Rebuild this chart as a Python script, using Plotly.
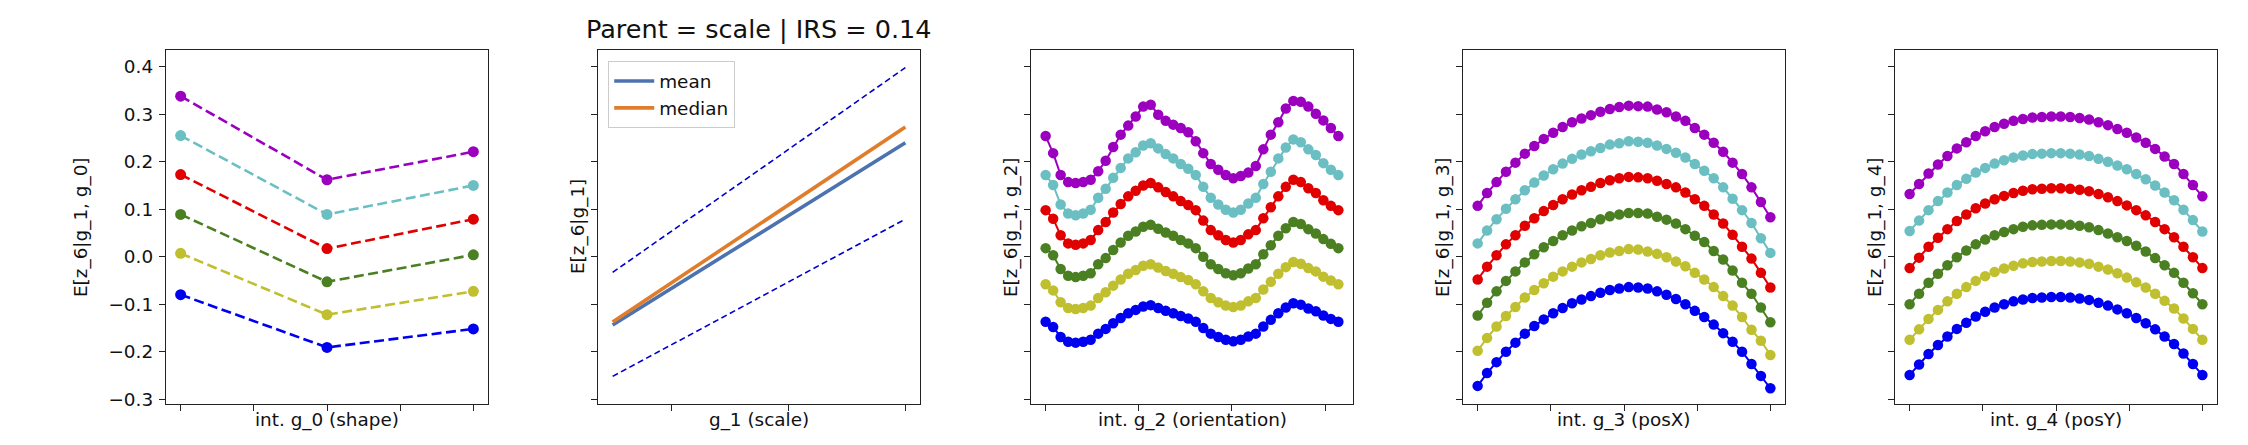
import numpy as np
import plotly.graph_objects as go

W, H = 2248, 445
FONT = "DejaVu Sans"

# colours for the six scale levels, bottom to top
level_colors = ["#0000f0", "#bfbf30", "#4a7f22", "#e00000", "#6bbfc3", "#9b00bf"]

# panel 1: shape
shape_x = [0, 1, 2]
shape_vals = [
    [-0.080, -0.191, -0.152],
    [0.007, -0.122, -0.073],
    [0.089, -0.053, 0.004],
    [0.173, 0.017, 0.079],
    [0.255, 0.089, 0.150],
    [0.338, 0.162, 0.221],
]

# panel 2: scale
scale_x = [0.5, 1.0]
scale_mean = [-0.144, 0.240]
scale_median = [-0.1375, 0.273]
scale_upper = [-0.033, 0.398]
scale_lower = [-0.252, 0.079]

# panel 3: orientation (40 levels)
orient_x = np.linspace(0, 2 * np.pi, 40)
orient_vals = [
    [-0.137, -0.148, -0.169, -0.179, -0.181, -0.179, -0.175, -0.162, -0.152, -0.140,
     -0.129, -0.119, -0.112, -0.105, -0.102, -0.108, -0.114, -0.119, -0.125, -0.130,
     -0.137, -0.150, -0.162, -0.169, -0.175, -0.178, -0.175, -0.168, -0.162, -0.147,
     -0.133, -0.119, -0.107, -0.098, -0.101, -0.109, -0.115, -0.124, -0.131, -0.137],
    [-0.058, -0.071, -0.096, -0.108, -0.110, -0.108, -0.103, -0.087, -0.075, -0.061,
     -0.048, -0.036, -0.028, -0.019, -0.016, -0.023, -0.030, -0.036, -0.043, -0.049,
     -0.058, -0.073, -0.087, -0.096, -0.103, -0.106, -0.103, -0.094, -0.087, -0.069,
     -0.053, -0.036, -0.022, -0.011, -0.015, -0.024, -0.031, -0.042, -0.050, -0.058],
    [0.018, 0.003, -0.026, -0.040, -0.043, -0.040, -0.035, -0.016, -0.003, 0.014,
     0.030, 0.044, 0.053, 0.063, 0.067, 0.059, 0.051, 0.044, 0.035, 0.028,
     0.018, 0.000, -0.016, -0.026, -0.035, -0.039, -0.035, -0.025, -0.016, 0.005,
     0.024, 0.044, 0.060, 0.073, 0.069, 0.058, 0.049, 0.037, 0.027, 0.018],
    [0.098, 0.080, 0.045, 0.028, 0.025, 0.028, 0.035, 0.056, 0.073, 0.093,
     0.111, 0.127, 0.139, 0.150, 0.155, 0.146, 0.136, 0.127, 0.117, 0.109,
     0.098, 0.076, 0.056, 0.045, 0.035, 0.030, 0.035, 0.047, 0.056, 0.081,
     0.104, 0.127, 0.147, 0.162, 0.157, 0.144, 0.134, 0.119, 0.107, 0.098],
    [0.172, 0.151, 0.110, 0.091, 0.087, 0.091, 0.099, 0.124, 0.143, 0.166,
     0.187, 0.207, 0.220, 0.234, 0.239, 0.228, 0.216, 0.207, 0.195, 0.185,
     0.172, 0.147, 0.124, 0.110, 0.099, 0.093, 0.099, 0.112, 0.124, 0.153,
     0.179, 0.207, 0.230, 0.247, 0.241, 0.226, 0.214, 0.197, 0.183, 0.172],
    [0.254, 0.218, 0.172, 0.157, 0.155, 0.157, 0.162, 0.180, 0.202, 0.231,
     0.257, 0.276, 0.295, 0.316, 0.320, 0.299, 0.286, 0.278, 0.271, 0.262,
     0.243, 0.218, 0.195, 0.183, 0.172, 0.165, 0.170, 0.177, 0.191, 0.226,
     0.257, 0.283, 0.312, 0.328, 0.326, 0.316, 0.301, 0.287, 0.271, 0.254],
]

# panel 4: posX (32 levels)
posx_x = np.linspace(0, 1, 32)
posx_vals = [
    [-0.272, -0.245, -0.222, -0.200, -0.181, -0.162, -0.146, -0.132, -0.119, -0.108,
     -0.098, -0.090, -0.083, -0.076, -0.070, -0.067, -0.064, -0.065, -0.067, -0.073,
     -0.080, -0.089, -0.100, -0.114, -0.127, -0.143, -0.161, -0.179, -0.200, -0.226,
     -0.251, -0.277],
    [-0.198, -0.171, -0.147, -0.125, -0.106, -0.086, -0.070, -0.056, -0.042, -0.031,
     -0.021, -0.012, -0.005, 0.003, 0.009, 0.012, 0.016, 0.015, 0.011, 0.006,
     -0.001, -0.010, -0.020, -0.034, -0.048, -0.064, -0.083, -0.103, -0.127, -0.154,
     -0.177, -0.207],
    [-0.124, -0.097, -0.073, -0.051, -0.031, -0.012, 0.005, 0.020, 0.033, 0.045,
     0.055, 0.064, 0.071, 0.079, 0.085, 0.089, 0.092, 0.092, 0.091, 0.084,
     0.078, 0.070, 0.058, 0.044, 0.031, 0.012, -0.006, -0.029, -0.055, -0.078,
     -0.107, -0.138],
    [-0.048, -0.021, 0.003, 0.026, 0.045, 0.065, 0.081, 0.096, 0.109, 0.121,
     0.131, 0.140, 0.147, 0.155, 0.161, 0.165, 0.168, 0.167, 0.165, 0.160,
     0.153, 0.146, 0.135, 0.121, 0.107, 0.089, 0.070, 0.046, 0.021, -0.004,
     -0.034, -0.065],
    [0.028, 0.055, 0.079, 0.101, 0.121, 0.140, 0.156, 0.171, 0.184, 0.196,
     0.206, 0.215, 0.222, 0.229, 0.236, 0.239, 0.243, 0.242, 0.240, 0.234,
     0.227, 0.219, 0.209, 0.195, 0.181, 0.165, 0.146, 0.122, 0.098, 0.071,
     0.039, 0.008],
    [0.107, 0.134, 0.157, 0.179, 0.198, 0.217, 0.233, 0.248, 0.261, 0.273,
     0.283, 0.291, 0.298, 0.305, 0.311, 0.315, 0.318, 0.317, 0.316, 0.310,
     0.304, 0.295, 0.286, 0.271, 0.257, 0.240, 0.221, 0.198, 0.174, 0.146,
     0.115, 0.083],
]

# panel 5: posY (32 levels)
posy_x = np.linspace(0, 1, 32)
posy_vals = [
    [-0.249, -0.227, -0.205, -0.186, -0.168, -0.152, -0.139, -0.126, -0.116, -0.107,
     -0.100, -0.094, -0.090, -0.087, -0.086, -0.085, -0.085, -0.086, -0.088, -0.091,
     -0.097, -0.103, -0.111, -0.119, -0.129, -0.140, -0.153, -0.168, -0.184, -0.204,
     -0.226, -0.249],
    [-0.175, -0.153, -0.131, -0.112, -0.094, -0.078, -0.064, -0.051, -0.041, -0.032,
     -0.025, -0.019, -0.014, -0.011, -0.010, -0.009, -0.009, -0.010, -0.012, -0.015,
     -0.021, -0.027, -0.035, -0.044, -0.054, -0.065, -0.078, -0.093, -0.109, -0.130,
     -0.152, -0.175],
    [-0.100, -0.078, -0.055, -0.036, -0.018, -0.001, 0.013, 0.026, 0.036, 0.045,
     0.052, 0.058, 0.063, 0.066, 0.067, 0.068, 0.068, 0.067, 0.065, 0.062,
     0.056, 0.049, 0.041, 0.033, 0.023, 0.011, -0.003, -0.018, -0.034, -0.055,
     -0.077, -0.100],
    [-0.024, -0.002, 0.021, 0.040, 0.058, 0.075, 0.089, 0.102, 0.112, 0.121,
     0.128, 0.134, 0.139, 0.142, 0.143, 0.144, 0.144, 0.143, 0.141, 0.138,
     0.132, 0.125, 0.117, 0.108, 0.098, 0.087, 0.073, 0.058, 0.041, 0.021,
     -0.001, -0.024],
    [0.054, 0.076, 0.098, 0.117, 0.135, 0.151, 0.164, 0.177, 0.187, 0.196,
     0.203, 0.209, 0.213, 0.216, 0.217, 0.218, 0.218, 0.217, 0.215, 0.212,
     0.206, 0.200, 0.192, 0.184, 0.174, 0.163, 0.150, 0.135, 0.119, 0.099,
     0.077, 0.053],
    [0.132, 0.153, 0.175, 0.194, 0.212, 0.228, 0.241, 0.254, 0.264, 0.273,
     0.280, 0.286, 0.290, 0.293, 0.294, 0.295, 0.295, 0.294, 0.292, 0.289,
     0.283, 0.277, 0.269, 0.261, 0.251, 0.240, 0.227, 0.211, 0.195, 0.174,
     0.151, 0.127],
]

y_ticks = [0.4, 0.3, 0.2, 0.1, 0.0, -0.1, -0.2, -0.3]
y_ticktext = ["0.4", "0.3", "0.2", "0.1", "0.0", "\u22120.1", "\u22120.2", "\u22120.3"]

x_titles = ["int. g_0 (shape)", "g_1 (scale)", "int. g_2 (orientation)",
            "int. g_3 (posX)", "int. g_4 (posY)"]
y_titles = ["E[z_6|g_1, g_0]", "E[z_6|g_1]", "E[z_6|g_1, g_2]",
            "E[z_6|g_1, g_3]", "E[z_6|g_1, g_4]"]

# pixel boxes of the five axes
left_px = [158, 590, 1023, 1455, 1887]
ax_w = 322
top_px, bot_px = 43, 401
ylabel_px = [73, 570, 1003, 1435, 1867]

x_ranges = [[-0.1, 2.1], [0.475, 1.025], [-0.1 * np.pi, 2.1 * np.pi], [-0.05, 1.05], [-0.05, 1.05]]
x_ticks = [[0, 0.5, 1, 1.5, 2], [0.6, 0.8, 1.0], [0, 2, 4, 6],
           [0, 0.25, 0.5, 0.75, 1], [0, 0.25, 0.5, 0.75, 1]]

fig = go.Figure()

# panel 1
for vals, col in zip(shape_vals, level_colors):
    fig.add_trace(go.Scatter(x=shape_x, y=vals, mode="lines+markers",
                             line=dict(color=col, width=2.6, dash="10px,4.5px"),
                             marker=dict(color=col, size=11),
                             showlegend=False, xaxis="x", yaxis="y"))

# panel 2
for vals in (scale_upper, scale_lower):
    fig.add_trace(go.Scatter(x=scale_x, y=vals, mode="lines",
                             line=dict(color="#0000cc", width=1.6, dash="6px,3.5px"),
                             showlegend=False, xaxis="x2", yaxis="y2"))
fig.add_trace(go.Scatter(x=scale_x, y=scale_mean, mode="lines", name="mean",
                         line=dict(color="#4c72b0", width=3.6),
                         xaxis="x2", yaxis="y2"))
fig.add_trace(go.Scatter(x=scale_x, y=scale_median, mode="lines", name="median",
                         line=dict(color="#e07d2c", width=3.6),
                         xaxis="x2", yaxis="y2"))

# panels 3-5
for k, (xs, series) in enumerate([(orient_x, orient_vals), (posx_x, posx_vals),
                                  (posy_x, posy_vals)], start=3):
    for vals, col in zip(series, level_colors):
        fig.add_trace(go.Scatter(x=xs, y=vals, mode="lines+markers",
                                 line=dict(color=col, width=2),
                                 marker=dict(color=col, size=10.5),
                                 showlegend=False, xaxis=f"x{k}", yaxis=f"y{k}"))

FS = 18.4
layout = dict(
    width=W, height=H,
    margin=dict(l=0, r=0, t=0, b=0),
    paper_bgcolor="white", plot_bgcolor="white",
    font=dict(family=FONT, size=FS, color="#111"),
    legend=dict(x=600 / W, y=1 - 54 / H, xanchor="left", yanchor="top",
                bgcolor="white", bordercolor="#cccccc", borderwidth=1.2,
                font=dict(size=FS), itemwidth=40, tracegroupgap=2),
    annotations=[],
)

axis_common = dict(showline=True, linecolor="#222", linewidth=1.4, mirror=True,
                   showgrid=False, zeroline=False, ticks="outside", ticklen=6,
                   tickwidth=1.4, tickcolor="#222")
ydom = [1 - bot_px / H, 1 - top_px / H]

for i in range(5):
    sfx = "" if i == 0 else str(i + 1)
    x0 = left_px[i] / W
    x1 = (left_px[i] + ax_w) / W
    layout["xaxis" + sfx] = dict(domain=[x0, x1], range=x_ranges[i], tickvals=x_ticks[i],
                                 showticklabels=False, anchor="y" + sfx, **axis_common)
    layout["yaxis" + sfx] = dict(domain=ydom, range=[-0.3093, 0.4343], tickvals=y_ticks,
                                 ticktext=y_ticktext, showticklabels=(i == 0),
                                 ticklabelstandoff=2, anchor="x" + sfx, **axis_common)
    layout["annotations"].append(dict(text=x_titles[i], x=(x0 + x1) / 2, y=1 - 418 / H,
                                      xref="paper", yref="paper", showarrow=False,
                                      xanchor="center", yanchor="middle",
                                      font=dict(size=FS)))
    layout["annotations"].append(dict(text=y_titles[i], x=ylabel_px[i] / W, y=1 - 222 / H,
                                      xref="paper", yref="paper", showarrow=False,
                                      textangle=-90, xanchor="center", yanchor="middle",
                                      font=dict(size=FS)))

layout["annotations"].append(dict(text="Parent = scale | IRS = 0.14",
                                  x=(590 + ax_w / 2) / W, y=1 - top_px / H,
                                  xref="paper", yref="paper", showarrow=False,
                                  xanchor="center", yanchor="bottom", yshift=4,
                                  font=dict(size=25.5)))

fig.update_layout(**layout)
fig.write_html("out.html")
